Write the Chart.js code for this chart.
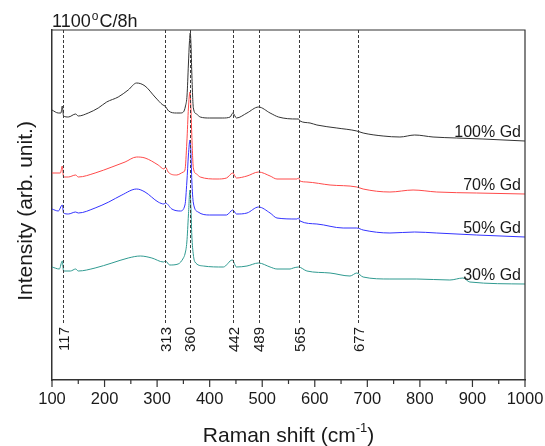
<!DOCTYPE html>
<html>
<head>
<meta charset="utf-8">
<script src="https://cdn.jsdelivr.net/npm/chart.js@4"></script>
<style>
  html, body { margin: 0; padding: 0; background: #fff; }
  canvas { display: block; }
</style>
</head>
<body>
<canvas id="raman" width="545" height="446"></canvas>
<script>
// Raman spectra, 1100°C/8h — [shift (cm-1), intensity (arb.)]
const gd100 = [[100,270],[112,267],[117,267],[119.5,274],[122,264],[131,263],[145,266],[150,264],[169,267],[188,272],[204,278],[226,283],[245,290],[261,297],[277,294],[296,283],[311,275],[315,274],[322,269],[337,267],[344,267],[350,268],[354,274],[357,285],[359.5,315],[361.5,338],[363,347],[364.5,335],[366,307],[369,272],[375,266],[382,263],[400,262],[425,262],[439,263],[444,267],[451,262],[471,267],[493,273],[515,267],[531,263],[566,261],[569,261],[572,259],[591,257],[604,255],[642,252],[680,249],[692,247],[730,244],[762,243],[790,245],[825,243],[870,242],[920,241],[1000,239]];
const gd70 = [[100,207],[116,207],[119.5,214],[122,203],[131,203],[145,205],[150,203],[182,207],[214,213],[239,218],[261,223],[277,222],[302,215],[313,211],[316,213],[321,208],[337,205],[350,208],[353,210],[356.6,238],[359.6,272],[362.5,288],[364.5,270],[366,245],[369,212],[375,206],[382,203],[414,201],[432,202],[444,207],[451,202],[471,204],[493,208],[515,204],[528,201],[566,201],[569,202],[572,199],[585,198],[629,195],[680,193],[692,191],[743,188],[787,190],[832,188],[908,187],[1000,186]];
const gd50 = [[100,171],[112,169],[119.5,175],[122,167],[131,166],[145,168],[150,167],[182,172],[208,178],[233,185],[261,191],[277,188],[302,178],[313,176],[316,177],[328,171],[344,169],[353,175],[356.6,198],[359.6,225],[362.5,240],[364.5,225],[366,200],[369,177],[378,168],[400,165],[432,165],[444,170],[451,166],[471,167],[493,173],[515,167],[528,162],[566,161],[569,162],[572,159],[604,156],[654,152],[680,152],[692,150],[743,147],[790,148],[832,147],[908,145],[1000,143]];
const gd30 = [[100,113],[114,111],[119.5,119],[122,109],[135,109],[145,111],[150,109],[182,112],[214,117],[245,122],[268,124],[290,122],[312,118],[316,119],[324,115],[340,116],[350,122],[353,126],[356.6,138],[359.6,165],[362.5,190],[364.5,170],[366,145],[369,125],[372,118],[388,114],[426,113],[443,120],[451,113],[471,114],[493,117],[515,113],[528,111],[553,111],[559,112],[569,113],[585,109],[629,107],[667,104],[680,107],[692,103],[743,101],[794,101],[857,100],[882,102],[895,98],[1000,96]];

const seriesNames = ['100% Gd', '70% Gd', '50% Gd', '30% Gd'];
const peakPos = [121, 315, 362, 445, 493, 570, 682];
const peakLabels = ['117', '313', '360', '442', '489', '565', '677'];
const xTicks = [100, 200, 300, 400, 500, 600, 700, 800, 900, 1000];

const FONT = "'Liberation Sans', Arial, sans-serif";
const INK = '#1a1a1a';
const colors = ['#333333', '#ff4a4a', '#3333ff', '#2f9a90'];

Chart.defaults.font.family = FONT;

const toXY = arr => arr.map(p => ({ x: p[0], y: p[1] }));
const allSeries = [gd100, gd70, gd50, gd30];

const datasets = allSeries.map((s, i) => ({
    label: seriesNames[i],
    data: toXY(s),
    borderColor: colors[i],
    borderWidth: 1,
    pointRadius: 0,
    cubicInterpolationMode: 'monotone',
    fill: false,
    order: 3 - i
}));

// frame, ticks, dashed peak lines and all the free text
const decorations = {
    id: 'decorations',
    afterDatasetsDraw(chart) {
        const ctx = chart.ctx;
        const area = chart.chartArea;
        const xs = chart.scales.x;
        const ys = chart.scales.y;
        ctx.save();

        // dashed lines at the peaks
        const lineEnd = ys.getPixelForValue(57);
        ctx.strokeStyle = '#3a3a3a';
        ctx.lineWidth = 1;
        ctx.setLineDash([3, 2]);
        peakPos.forEach(p => {
            const x = Math.round(xs.getPixelForValue(p)) + 0.5;
            ctx.beginPath();
            ctx.moveTo(x, area.top);
            ctx.lineTo(x, lineEnd);
            ctx.stroke();
        });
        ctx.setLineDash([]);

        // peak labels, rotated
        ctx.fillStyle = INK;
        ctx.font = '15px ' + FONT;
        ctx.textAlign = 'right';
        ctx.textBaseline = 'middle';
        peakPos.forEach((p, i) => {
            ctx.save();
            ctx.translate(xs.getPixelForValue(p) + 1.5, lineEnd + 4);
            ctx.rotate(-Math.PI / 2);
            ctx.fillText(peakLabels[i], 0, 0);
            ctx.restore();
        });

        // series names above each curve's end
        ctx.font = '16px ' + FONT;
        ctx.textAlign = 'right';
        ctx.textBaseline = 'alphabetic';
        allSeries.forEach((s, i) => {
            const last = s[s.length - 1][1];
            ctx.fillText(seriesNames[i], area.right - 4, ys.getPixelForValue(last) - 4);
        });
        ctx.restore();
    },
    afterDraw(chart) {
        const ctx = chart.ctx;
        const area = chart.chartArea;
        const xs = chart.scales.x;
        ctx.save();

        // top and right frame
        ctx.strokeStyle = '#333';
        ctx.lineWidth = 1.2;
        ctx.beginPath();
        ctx.moveTo(area.left, area.top);
        ctx.lineTo(area.right, area.top);
        ctx.lineTo(area.right, area.bottom);
        ctx.stroke();

        // x tick marks, major and minor, pointing out
        ctx.lineWidth = 1.2;
        for (let v = 100; v <= 1000; v += 50) {
            const x = xs.getPixelForValue(v);
            const len = v % 100 === 0 ? 7 : 4;
            ctx.beginPath();
            ctx.moveTo(x, area.bottom);
            ctx.lineTo(x, area.bottom + len);
            ctx.stroke();
        }

        ctx.fillStyle = INK;
        ctx.textBaseline = 'alphabetic';

        // heading 1100°C/8h
        ctx.textAlign = 'left';
        let x = area.left;
        ctx.font = '18px ' + FONT;
        ctx.fillText('1100', x, 27);
        x += ctx.measureText('1100').width + 1;
        ctx.font = '12px ' + FONT;
        ctx.fillText('o', x, 20);
        x += ctx.measureText('o').width + 1;
        ctx.font = '18px ' + FONT;
        ctx.fillText('C/8h', x, 27);

        // x axis title with superscript
        const big = '21px ' + FONT, small = '13px ' + FONT;
        ctx.font = big;
        const w1 = ctx.measureText('Raman shift (cm').width;
        const w3 = ctx.measureText(')').width;
        ctx.font = small;
        const w2 = ctx.measureText('-1').width;
        let tx = (area.left + area.right) / 2 - (w1 + w2 + w3) / 2;
        ctx.font = big;
        ctx.fillText('Raman shift (cm', tx, 442);
        ctx.font = small;
        ctx.fillText('-1', tx + w1, 432);
        ctx.font = big;
        ctx.fillText(')', tx + w1 + w2, 442);

        // y axis title
        ctx.save();
        ctx.translate(31.5, (area.top + area.bottom) / 2 + 6);
        ctx.rotate(-Math.PI / 2);
        ctx.textAlign = 'center';
        ctx.font = big;
        ctx.fillText('Intensity (arb. unit.)', 0, 0);
        ctx.restore();

        ctx.restore();
    }
};

new Chart(document.getElementById('raman'), {
    type: 'line',
    data: { datasets: datasets },
    options: {
        responsive: false,
        animation: false,
        devicePixelRatio: 1,
        layout: { padding: { top: 30, right: 0, left: 0, bottom: 0 } },
        plugins: {
            legend: { display: false },
            tooltip: { enabled: false }
        },
        scales: {
            x: {
                type: 'linear',
                min: 100,
                max: 1000,
                afterBuildTicks: scale => { scale.ticks = xTicks.map(v => ({ value: v })); },
                afterFit: scale => {
                    scale.height = 66;
                    scale.paddingLeft = 0;
                    scale.paddingRight = 20;
                },
                ticks: {
                    color: INK,
                    font: { size: 16.5 },
                    padding: 10,
                    maxRotation: 0,
                    autoSkip: false,
                    callback: v => String(v)
                },
                grid: { display: false, drawTicks: false },
                border: { display: true, color: '#333', width: 1.5 }
            },
            y: {
                type: 'linear',
                min: 0,
                max: 350,
                afterFit: scale => { scale.width = 52; },
                ticks: { display: false },
                grid: { display: false, drawTicks: false },
                border: { display: true, color: '#333', width: 1.5 }
            }
        }
    },
    plugins: [decorations]
});
</script>
</body>
</html>
